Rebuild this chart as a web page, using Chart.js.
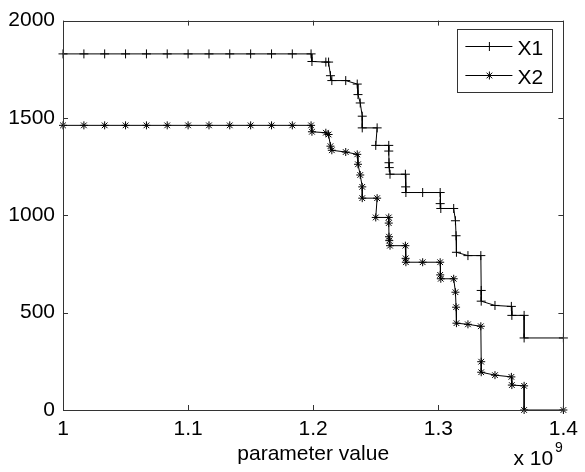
<!DOCTYPE html>
<html>
<head>
<meta charset="utf-8">
<script src="https://cdn.jsdelivr.net/npm/chart.js@4/dist/chart.umd.min.js"></script>
<style>
html,body{margin:0;padding:0;background:#fff;}
#c{display:block;}
</style>
</head>
<body>
<canvas id="c" width="585" height="472"></canvas>
<script>
// ---- data (x in units of 1e9) ----
const xValues = [1.0000,1.0167,1.0333,1.0500,1.0667,1.0833,1.1000,1.1167,1.1333,1.1500,1.1667,1.1833,
  1.1983,1.1990,1.2101,1.2123,1.2138,1.2149,1.2260,1.2352,1.2358,1.2376,1.2392,1.2392,1.2511,1.2500,
  1.2604,1.2604,1.2606,1.2608,1.2614,1.2737,1.2739,1.2741,1.2875,1.3015,1.3015,1.3020,1.3123,1.3137,
  1.3142,1.3145,1.3237,1.3340,1.3343,1.3343,1.3453,1.3584,1.3588,1.3686,1.3686,1.4000];
const x1Values = [1829,1829,1829,1829,1829,1829,1829,1829,1829,1829,1829,1829,
  1829,1790,1787,1787,1717,1692,1692,1674,1620,1577,1509,1449,1449,1359,
  1359,1330,1270,1245,1211,1211,1146,1117,1117,1117,1060,1035,1035,972,
  895,810,793,793,614,559,537,532,486,486,370,370];
const x2Values = [1462,1462,1462,1462,1462,1462,1462,1462,1462,1462,1462,1462,
  1462,1429,1424,1415,1355,1334,1325,1313,1262,1207,1146,1088,1088,989,
  989,960,890,870,844,844,779,759,759,759,694,674,674,605,
  528,446,440,430,248,194,179,170,128,124,0,0];
const seriesNames = ['X1','X2'];
const xTickValues = [1, 1.1, 1.2, 1.3, 1.4];
const xTickLabels = ['1','1.1','1.2','1.3','1.4'];
const yTickValues = [0, 500, 1000, 1500, 2000];
const yTickLabels = ['0','500','1000','1500','2000'];
const xAxisTitle = 'parameter value';
const xExponentBase = 'x 10';
const xExponent = '9';

const FONT = '"Liberation Sans", Arial, Helvetica, sans-serif';

function drawMarker(ctx, style, x, y, r) {
  ctx.beginPath();
  ctx.moveTo(x - r, y); ctx.lineTo(x + r, y);
  ctx.moveTo(x, y - r); ctx.lineTo(x, y + r);
  if (style === 'star') {
    const d = r * Math.SQRT1_2;
    ctx.moveTo(x - d, y - d); ctx.lineTo(x + d, y + d);
    ctx.moveTo(x - d, y + d); ctx.lineTo(x + d, y - d);
  }
  ctx.stroke();
}

const boxPlugin = {
  id: 'matlabBox',
  afterDraw(chart) {
    const {ctx, chartArea: a, scales} = chart;
    ctx.save();
    ctx.strokeStyle = '#333';
    ctx.lineWidth = 1;
    ctx.strokeRect(Math.round(a.left) + 0.5, Math.round(a.top) + 0.5,
      Math.round(a.right - a.left), Math.round(a.bottom - a.top));
    const tl = 5;
    ctx.beginPath();
    xTickValues.forEach(v => {
      const px = Math.round(scales.x.getPixelForValue(v)) + 0.5;
      ctx.moveTo(px, a.bottom); ctx.lineTo(px, a.bottom - tl);
      ctx.moveTo(px, a.top); ctx.lineTo(px, a.top + tl);
    });
    yTickValues.forEach(v => {
      const py = Math.round(scales.y.getPixelForValue(v)) + 0.5;
      ctx.moveTo(a.left, py); ctx.lineTo(a.left + tl, py);
      ctx.moveTo(a.right, py); ctx.lineTo(a.right - tl, py);
    });
    ctx.stroke();

    // exponent label
    ctx.fillStyle = '#000';
    ctx.textBaseline = 'alphabetic';
    ctx.textAlign = 'left';
    ctx.font = '21px ' + FONT;
    const ex = a.right - 50;
    ctx.fillText(xExponentBase, ex, 465);
    const w = ctx.measureText(xExponentBase).width;
    ctx.font = '14px ' + FONT;
    ctx.fillText(xExponent, ex + w + 2, 452);

    // legend
    const lx = a.right - 106, ly = a.top + 8.5, lw = 95, lh = 63;
    ctx.fillStyle = '#fff';
    ctx.fillRect(lx, ly, lw, lh);
    ctx.strokeStyle = '#333';
    ctx.strokeRect(Math.round(lx) + 0.5, Math.round(ly) + 0.5, lw, lh);
    const styles = ['cross', 'star'];
    const radii = [4.5, 4];
    seriesNames.forEach((name, i) => {
      const ry = Math.round(ly + 16.5 + i * 29.5) + 0.5;
      ctx.strokeStyle = '#000';
      ctx.beginPath();
      ctx.moveTo(lx + 8, ry); ctx.lineTo(lx + 55, ry);
      ctx.stroke();
      drawMarker(ctx, styles[i], lx + 32, ry, radii[i]);
      ctx.fillStyle = '#000';
      ctx.font = '21px ' + FONT;
      ctx.textBaseline = 'alphabetic';
      ctx.fillText(name, lx + 60, ry + 8.5);
    });
    ctx.restore();
  }
};

new Chart(document.getElementById('c'), {
  type: 'scatter',
  data: {
    datasets: [
      {
        label: seriesNames[0],
        data: xValues.map((x, i) => ({x: x, y: x1Values[i]})),
        showLine: true,
        borderColor: '#000',
        borderWidth: 1,
        pointStyle: 'cross',
        pointRadius: 4.5,
        pointBorderColor: '#000',
        pointBorderWidth: 1,
        pointBackgroundColor: '#000',
        clip: false
      },
      {
        label: seriesNames[1],
        data: xValues.map((x, i) => ({x: x, y: x2Values[i]})),
        showLine: true,
        borderColor: '#000',
        borderWidth: 1,
        pointStyle: 'star',
        pointRadius: 4,
        pointBorderColor: '#000',
        pointBorderWidth: 1,
        pointBackgroundColor: '#000',
        clip: false
      }
    ]
  },
  options: {
    responsive: false,
    animation: false,
    devicePixelRatio: 1,
    layout: {padding: {left: 0, right: 17, top: 19, bottom: 0}},
    plugins: {legend: {display: false}, tooltip: {enabled: false}},
    elements: {line: {tension: 0}},
    scales: {
      x: {
        type: 'linear',
        min: 1, max: 1.4,
        afterBuildTicks: s => { s.ticks = xTickValues.map(v => ({value: v})); },
        afterFit: s => { s.height = 62; },
        grid: {display: false, drawTicks: false},
        border: {display: false},
        ticks: {
          padding: 7,
          color: '#000',
          font: {family: FONT, size: 21},
          maxRotation: 0,
          callback: (v, i) => xTickLabels[i]
        },
        title: {
          display: true,
          text: xAxisTitle,
          color: '#000',
          font: {family: FONT, size: 21},
          padding: {top: 0, bottom: 5}
        }
      },
      y: {
        type: 'linear',
        min: 0, max: 2000,
        afterBuildTicks: s => { s.ticks = yTickValues.map(v => ({value: v})); },
        afterFit: s => { s.width = 63; },
        grid: {display: false, drawTicks: false},
        border: {display: false},
        ticks: {
          padding: 8,
          color: '#000',
          font: {family: FONT, size: 21},
          callback: (v, i) => yTickLabels[i]
        }
      }
    }
  },
  plugins: [boxPlugin]
});
</script>
</body>
</html>
